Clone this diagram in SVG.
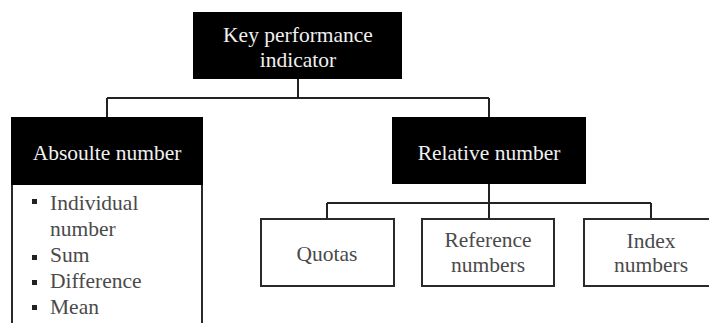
<svg xmlns="http://www.w3.org/2000/svg" width="709" height="323" viewBox="0 0 709 323">
<style>
text{font-family:'Liberation Serif','Times New Roman',serif;font-size:21.5px;text-anchor:middle}
.hdr{fill:#000}
.hdrt{fill:#f0f0f0}
.box{fill:#fff;stroke:#2a2a2a;stroke-width:2}
.bt{fill:#4a4a4a}
.li{fill:#4a4a4a;text-anchor:start}
.bul{fill:#222}
.conn{fill:none;stroke:#222;stroke-width:2}
</style>
<rect width="709" height="323" fill="#fff"/>
<g id="connectors">
<path class="conn" d="M298 79V98M107 98H489M107 98V118M489 98V118"/>
<path class="conn" d="M489 184V203M327 203H651M327 203V219M489 203V219M651 203V219"/>
</g>
<g id="kpi">
<rect class="hdr" x="193" y="12" width="209" height="67"/>
<text class="hdrt" x="298" y="42">Key performance</text>
<text class="hdrt" x="298" y="67">indicator</text>
</g>
<g id="absolute">
<rect class="box" x="12" y="184" width="190" height="150"/>
<rect class="hdr" x="11" y="117" width="192" height="68"/>
<text class="hdrt" x="107" y="160">Absoulte number</text>
<rect class="bul" x="32" y="199" width="5" height="5"/>
<text class="li" x="50" y="210">Individual</text>
<text class="li" x="50" y="236">number</text>
<rect class="bul" x="32" y="255" width="5" height="5"/>
<text class="li" x="50" y="262">Sum</text>
<rect class="bul" x="32" y="280" width="5" height="5"/>
<text class="li" x="50" y="288">Difference</text>
<rect class="bul" x="32" y="305" width="5" height="5"/>
<text class="li" x="50" y="314">Mean</text>
</g>
<g id="relative">
<rect class="hdr" x="392" y="117" width="194" height="67"/>
<text class="hdrt" x="489" y="160">Relative number</text>
</g>
<g id="quotas">
<rect class="box" x="261" y="219" width="133" height="67"/>
<text class="bt" x="327" y="261">Quotas</text>
</g>
<g id="reference">
<rect class="box" x="422" y="219" width="132" height="67"/>
<text class="bt" x="488" y="247">Reference</text>
<text class="bt" x="488" y="272">numbers</text>
</g>
<g id="index">
<rect class="box" x="584" y="219" width="132" height="67"/>
<text class="bt" x="651" y="248">Index</text>
<text class="bt" x="651" y="272">numbers</text>
</g>
</svg>
